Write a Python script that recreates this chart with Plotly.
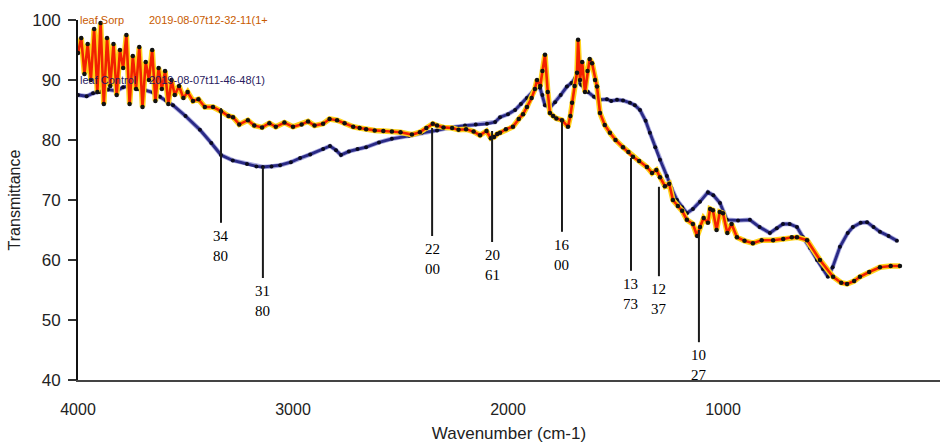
import plotly.graph_objects as go

# ---- Data ----
sorp_wn = [4000, 3985, 3970, 3955, 3940, 3925, 3910, 3895, 3880, 3865, 3850, 3835, 3820, 3805,
           3790, 3775, 3760, 3745, 3730, 3715, 3700, 3685, 3670, 3655, 3640, 3625, 3610, 3595,
           3580, 3565, 3550, 3530, 3510, 3490, 3465, 3440, 3410, 3372, 3335, 3300, 3279, 3250,
           3210, 3180, 3144, 3110, 3080, 3040, 3000, 2960, 2930, 2900, 2860, 2830, 2795, 2760,
           2720, 2690, 2660, 2620, 2580, 2540, 2500, 2447, 2410, 2380, 2350, 2330, 2300, 2260,
           2230, 2195, 2160, 2130, 2100, 2080, 2065, 2050, 2037, 2010, 1977, 1950, 1930, 1912,
           1890, 1875, 1865, 1850, 1840, 1828, 1815, 1805, 1790, 1775, 1749, 1721, 1710, 1702,
           1690, 1679, 1674, 1665, 1655, 1642, 1630, 1620, 1609, 1595, 1586, 1572, 1550, 1526,
           1500, 1465, 1440, 1419, 1390, 1354, 1330, 1310, 1293, 1270, 1250, 1233, 1210, 1190,
           1168, 1140, 1120, 1107, 1090, 1070, 1060, 1047, 1030, 1015, 1000, 980, 960, 935, 900,
           861, 820, 767, 720, 680, 656, 609, 549, 488, 450, 423, 390, 363, 320, 270, 220, 177]
sorp_t = [94.5, 97, 91, 96, 90, 98.5, 88, 99.5, 86, 97, 89, 96, 87.5, 95,
          92, 97.5, 86, 94, 88.5, 95.5, 85.5, 93, 90, 95, 86.5, 92, 88.5, 91.5,
          86, 90, 87.5, 89, 87, 88, 86.5, 86.8, 85.5, 85.5, 84.8, 84, 83.8, 82.6,
          83.3, 82.4, 82.1, 82.8, 82.2, 82.9, 82.2, 82.6, 83.1, 82.4, 82.7, 83.5, 83.3, 82.8,
          82.2, 82, 81.8, 81.6, 81.5, 81.4, 81.3, 80.9, 81.3, 82, 82.7, 82.4, 82.1, 82,
          81.7, 81.8, 81.4, 80.8, 81.5, 80.3, 80.5, 81, 81.2, 81.8, 82.2, 83.5, 84.3, 85.5,
          87, 88.5, 90, 89, 91.5, 94.2, 88, 84.5, 84, 83.6, 83.3, 82.2, 84, 86.2,
          89, 91.2, 96.7, 90, 93, 88, 91.5, 93.5, 92.8, 90, 88.9, 84.5, 82.5, 81.2,
          80, 78.8, 78, 77.2, 76.5, 75.5, 74.5, 75, 73.8, 72.3, 72.7, 70, 69, 68.2,
          66.7, 66, 64, 65.5, 67, 66.2, 68.5, 68.3, 65, 68, 67.8, 64.5, 66, 63.8, 63.2,
          62.8, 63.3, 63.3, 63.5, 63.8, 63.8, 63.3, 60, 57.2, 56.2, 56, 56.5, 57.2, 58, 58.8, 59, 59]

ctrl_wn = [4000, 3960, 3930, 3898, 3860, 3820, 3790, 3758, 3720, 3688, 3650, 3619, 3590, 3558,
           3500, 3433, 3380, 3335, 3280, 3214, 3170, 3140, 3100, 3060, 3010, 2967, 2920, 2860,
           2828, 2800, 2777, 2740, 2700, 2660, 2600, 2540, 2460, 2400, 2330, 2265, 2200, 2150,
           2098, 2060, 2037, 2000, 1967, 1940, 1912, 1885, 1865, 1851, 1840, 1828, 1805, 1781,
           1755, 1726, 1705, 1688, 1660, 1628, 1600, 1572, 1540, 1520, 1493, 1465, 1433, 1410,
           1386, 1360, 1340, 1315, 1293, 1261, 1240, 1214, 1190, 1168, 1140, 1107, 1070, 1045,
           1014, 982, 930, 875, 830, 782, 750, 721, 690, 656, 628, 595, 563, 535, 512, 490,
           456, 420, 396, 360, 330, 300, 270, 230, 191]
ctrl_t = [87.5, 87.3, 87.8, 88, 88.4, 88.2, 88.8, 89, 88.5, 88.3, 87.9, 87.2, 86.6, 85.8,
          84, 81.7, 79.5, 77.5, 76.6, 76, 75.6, 75.5, 75.6, 75.8, 76.3, 77, 77.6, 78.5,
          79, 78.3, 77.5, 78.1, 78.5, 78.8, 79.6, 80.2, 80.7, 81.2, 81.6, 82.1, 82.4, 82.6,
          82.7, 83, 83.8, 84.3, 85, 86, 87, 88, 88.8, 88.7, 87.5, 85.8, 85.4, 86.3,
          87.5, 88.9, 89.5, 90.3, 89.2, 88, 87.2, 86.7, 86.8, 86.5, 86.7, 86.6, 86.2, 85.8,
          85, 83.2, 81.2, 78.8, 76.7, 74, 72, 70, 68.8, 67.8, 68.5, 69.7, 71.3, 70.8,
          69.5, 66.7, 66.6, 66.7, 65.5, 64.5, 65.3, 66, 66, 65.5, 63.8, 62, 60, 58.5, 57.2, 58.8,
          62.2, 64.5, 65.5, 66.2, 66.3, 65.5, 64.7, 64, 63.2]

# peak markers: label, x position (as drawn), top and bottom of the line
peak_labels = ["34<br>80", "31<br>80", "22<br>00", "20<br>61", "16<br>00", "13<br>73", "12<br>37", "10<br>27"]
peak_x = [3335, 3140, 2353, 2074, 1749, 1428, 1298, 1112]
peak_top = [85.3, 75.5, 82.0, 81.5, 83.3, 77.0, 72.2, 65.0]
peak_bottom = [66.2, 57.0, 64.0, 63.0, 64.7, 58.2, 57.3, 46.3]

series_names = ["leaf Sorp", "leaf Control"]
series_dates = ["2019-08-07t12-32-11(1+", "2019-08-07t11-46-48(1)"]

x_ticks = [4000, 3000, 2000, 1000, 0]
y_ticks = [40, 50, 60, 70, 80, 90, 100]

fig = go.Figure()

# Control (navy with black dots)
fig.add_trace(go.Scatter(x=ctrl_wn, y=ctrl_t, mode="lines", line=dict(color="#7070c8", width=4.5),
                         hoverinfo="skip", showlegend=False, opacity=0.6))
fig.add_trace(go.Scatter(x=ctrl_wn, y=ctrl_t, mode="lines+markers", name=series_names[1],
                         line=dict(color="#2a2a86", width=2.8),
                         marker=dict(color="#0a0a20", size=4), showlegend=False))
# Sorp (red line, yellow halo, black dots)
fig.add_trace(go.Scatter(x=sorp_wn, y=sorp_t, mode="lines", line=dict(color="#ffd21a", width=5.5),
                         hoverinfo="skip", showlegend=False))
fig.add_trace(go.Scatter(x=sorp_wn, y=sorp_t, mode="lines+markers", name=series_names[0],
                         line=dict(color="#f22000", width=2.6),
                         marker=dict(color="#111", size=4.5), showlegend=False))

# peak lines and labels
for lab, x, y0, y1 in zip(peak_labels, peak_x, peak_top, peak_bottom):
    fig.add_shape(type="line", x0=x, x1=x, y0=y0, y1=y1, xref="x", yref="y",
                  line=dict(color="#1a1a1a", width=2))
    fig.add_annotation(x=x, y=y1, text=lab, showarrow=False, yanchor="top", xanchor="center",
                       yshift=-3, font=dict(family="Liberation Serif, DejaVu Serif, serif",
                                            size=15, color="#000"))

# in-plot series captions
cap_colors = ["#c85a00", "#2a1a60"]
cap_y = [100, 90]
for name, date, col, yy in zip(series_names, series_dates, cap_colors, cap_y):
    fig.add_annotation(x=4000, y=yy, text=name, showarrow=False, xanchor="left", yanchor="middle",
                       font=dict(family="Liberation Sans, Arial", size=11, color=col))
    fig.add_annotation(x=3680, y=yy, text=date, showarrow=False, xanchor="left", yanchor="middle",
                       font=dict(family="Liberation Sans, Arial", size=11, color=col))

fig.update_layout(
    width=940, height=445,
    margin=dict(l=78, r=0, t=20, b=65),
    paper_bgcolor="white", plot_bgcolor="white",
    showlegend=False,
    xaxis=dict(range=[4000, -9.3], tickvals=x_ticks, ticktext=[str(v) for v in x_ticks],
               showgrid=False, zeroline=False, showline=True, linecolor="#444", linewidth=2,
               ticks="", ticklabelstandoff=14,
               tickfont=dict(family="Liberation Sans Narrow, Liberation Sans, Arial", size=16, color="#222"),
               title=dict(text="Wavenumber (cm-1)", standoff=10,
                          font=dict(family="Liberation Sans Narrow, Liberation Sans, Arial", size=17, color="#222"))),
    yaxis=dict(range=[40, 100], tickvals=y_ticks, showgrid=False, zeroline=False,
               showline=True, linecolor="#111", linewidth=2,
               ticks="outside", ticklen=8, tickwidth=1.5, tickcolor="#333", ticklabelstandoff=4,
               tickfont=dict(family="Liberation Sans, Arial", size=17, color="#222"),
               title=dict(text="Transmittance", standoff=8,
                          font=dict(family="Liberation Sans, Arial", size=16, color="#222"))),
)

fig.write_html("out.html")
